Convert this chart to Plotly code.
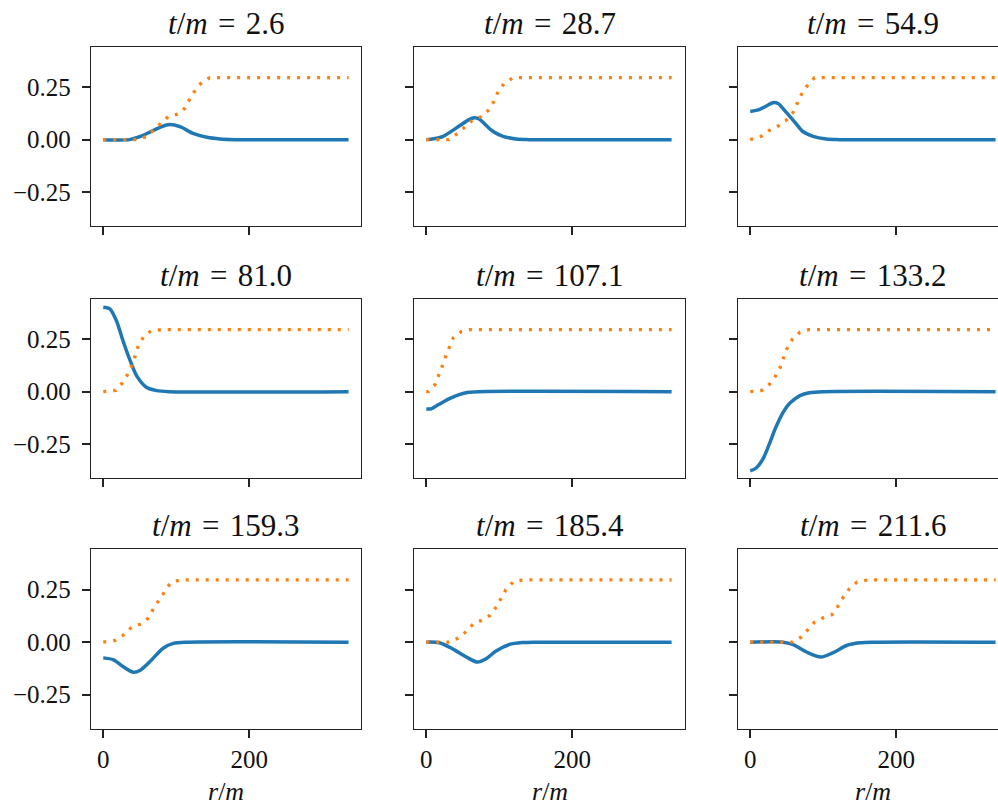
import plotly.graph_objects as go

# ---------------- data ----------------
TIMES = [2.6, 28.7, 54.9, 81.0, 107.1, 133.2, 159.3, 185.4, 211.6]
X_TICKS = [0, 200]
X_TICK_LABELS = ["0", "200"]
Y_TICKS = [-0.25, 0.0, 0.25]
Y_TICK_LABELS = ["\u22120.25", "0.00", "0.25"]

# solid blue curves (r, value)
r_blue_1 = [0, 36, 50, 68, 80, 91, 105, 123, 142, 160, 180, 336]
v_blue_1 = [0, 0.0, 0.014, 0.043, 0.062, 0.072, 0.062, 0.030, 0.011, 0.003, 0, 0]
r_blue_2 = [0, 10, 23, 45, 58, 66, 73, 80, 91, 105, 123, 140, 336]
v_blue_2 = [0, 0.004, 0.016, 0.065, 0.095, 0.105, 0.098, 0.075, 0.040, 0.016, 0.003, 0, 0]
r_blue_3 = [0, 13, 24, 31, 38, 49, 61, 72, 86, 104, 120, 336]
v_blue_3 = [0.135, 0.145, 0.165, 0.177, 0.173, 0.132, 0.084, 0.039, 0.016, 0.003, 0, 0]
r_blue_4 = [0, 9, 18, 27, 37, 46, 59, 73, 90, 336]
v_blue_4 = [0.405, 0.397, 0.340, 0.244, 0.147, 0.074, 0.021, 0.005, 0, 0]
r_blue_5 = [0, 6, 17, 31, 45, 58, 72, 336]
v_blue_5 = [-0.083, -0.083, -0.062, -0.035, -0.014, -0.003, 0, 0]
r_blue_6 = [0, 8, 17, 26, 35, 45, 54, 68, 81, 100, 336]
v_blue_6 = [-0.380, -0.366, -0.325, -0.252, -0.171, -0.099, -0.056, -0.019, -0.005, 0, 0]
r_blue_7 = [0, 14, 27, 41, 50, 64, 82, 96, 115, 336]
v_blue_7 = [-0.075, -0.084, -0.116, -0.143, -0.135, -0.092, -0.029, -0.006, 0, 0]
r_blue_8 = [0, 18, 36, 55, 70, 82, 95, 114, 132, 150, 336]
v_blue_8 = [0, -0.003, -0.032, -0.071, -0.095, -0.079, -0.043, -0.011, -0.002, 0, 0]
r_blue_9 = [0, 45, 58, 77, 97, 113, 132, 150, 170, 336]
v_blue_9 = [0, 0, -0.011, -0.047, -0.071, -0.051, -0.016, -0.003, 0, 0]

# dotted orange curves (r, value)
r_orange_1 = [0, 46, 59, 78, 89, 103, 112, 119, 126, 135, 146, 336]
v_orange_1 = [0, 0, 0.014, 0.075, 0.110, 0.123, 0.152, 0.198, 0.238, 0.275, 0.297, 0.297]
r_orange_2 = [0, 31, 43, 52, 64, 75, 85, 93, 99, 107, 119, 336]
v_orange_2 = [0, 0, 0.030, 0.060, 0.095, 0.110, 0.140, 0.185, 0.235, 0.270, 0.297, 0.297]
r_orange_3 = [0, 15, 26, 38, 49, 58, 70, 78, 88, 336]
v_orange_3 = [0, 0.016, 0.044, 0.065, 0.092, 0.127, 0.216, 0.258, 0.297, 0.297]
r_orange_4 = [0, 17, 25, 32, 40, 48, 56, 66, 80, 336]
v_orange_4 = [0, 0.006, 0.037, 0.074, 0.130, 0.220, 0.268, 0.292, 0.297, 0.297]
r_orange_5 = [0, 3, 12, 17, 22, 27, 32, 37, 48, 60, 336]
v_orange_5 = [0, 0, 0.034, 0.074, 0.123, 0.173, 0.221, 0.258, 0.288, 0.297, 0.297]
r_orange_6 = [0, 15, 26, 34, 41, 46, 50, 58, 68, 80, 336]
v_orange_6 = [0, 0.005, 0.034, 0.072, 0.117, 0.162, 0.205, 0.253, 0.285, 0.297, 0.297]
r_orange_7 = [0, 16, 28, 39, 53, 63, 69, 77, 92, 105, 336]
v_orange_7 = [0, 0.008, 0.035, 0.072, 0.088, 0.119, 0.162, 0.202, 0.282, 0.297, 0.297]
r_orange_8 = [0, 32, 45, 55, 65, 76, 87, 96, 109, 120, 134, 336]
v_orange_8 = [0, 0, 0.021, 0.052, 0.089, 0.104, 0.127, 0.168, 0.250, 0.290, 0.297, 0.297]
r_orange_9 = [0, 58, 70, 79, 88, 100, 112, 120, 128, 136, 146, 161, 336]
v_orange_9 = [0, 0, 0.025, 0.063, 0.095, 0.116, 0.131, 0.171, 0.218, 0.255, 0.286, 0.297, 0.297]

BLUE_R = [r_blue_1, r_blue_2, r_blue_3, r_blue_4, r_blue_5, r_blue_6, r_blue_7, r_blue_8, r_blue_9]
BLUE_V = [v_blue_1, v_blue_2, v_blue_3, v_blue_4, v_blue_5, v_blue_6, v_blue_7, v_blue_8, v_blue_9]
ORANGE_R = [r_orange_1, r_orange_2, r_orange_3, r_orange_4, r_orange_5, r_orange_6, r_orange_7, r_orange_8, r_orange_9]
ORANGE_V = [v_orange_1, v_orange_2, v_orange_3, v_orange_4, v_orange_5, v_orange_6, v_orange_7, v_orange_8, v_orange_9]

# ---------------- layout geometry ----------------
W, H = 998, 805
FONT = "Liberation Serif"
TEXT_COLOR = "#111"
COL_PX = [(91, 361), (414, 685), (738, 1008)]
ROW_PX = [(47, 226), (299, 478), (549, 729)]
XR = [-16.8, 353.0]
YR = [-0.414, 0.444]
PX_PER_UNIT = (COL_PX[0][1] - COL_PX[0][0]) / (XR[1] - XR[0])

fig = go.Figure()
annotations = []

for i in range(9):
    row, col = divmod(i, 3)
    k = i + 1
    xs = "" if k == 1 else str(k)
    fig.add_trace(go.Scatter(
        x=BLUE_R[i], y=BLUE_V[i], mode="lines",
        line=dict(color="#1f77b4", width=3.5, shape="spline", smoothing=0.8),
        xaxis="x" + xs, yaxis="y" + xs, showlegend=False, hoverinfo="skip"))
    fig.add_trace(go.Scatter(
        x=ORANGE_R[i], y=ORANGE_V[i], mode="lines",
        line=dict(color="#ff7f0e", width=3.3, dash="3px,7px"),
        xaxis="x" + xs, yaxis="y" + xs, showlegend=False, hoverinfo="skip"))

    x0, x1 = COL_PX[col]
    y0, y1 = ROW_PX[row]
    vis_x1 = min(x1, W)
    xr_end = XR[0] + (vis_x1 - x0) / PX_PER_UNIT
    xdom = [x0 / W, vis_x1 / W]
    ydom = [1 - y1 / H, 1 - y0 / H]

    axis_common = dict(showgrid=False, zeroline=False, showline=True,
                       linecolor="#222", linewidth=1.3, ticks="outside",
                       ticklen=8, tickwidth=1.6, tickcolor="#222",
                       tickfont=dict(family=FONT, size=25, color=TEXT_COLOR))
    fig.layout["xaxis" + xs] = dict(
        axis_common, domain=xdom, range=[XR[0], xr_end], anchor="y" + xs,
        mirror=True, tickvals=X_TICKS, ticktext=X_TICK_LABELS,
        showticklabels=(row == 2))
    fig.layout["yaxis" + xs] = dict(
        axis_common, domain=ydom, range=YR, anchor="x" + xs,
        mirror=(col != 2), tickvals=Y_TICKS, ticktext=Y_TICK_LABELS,
        showticklabels=(col == 0), ticklabelstandoff=6)

    cx = (x0 + x1) / 2 / W
    annotations.append(dict(
        text="<i>t</i>/<i>m</i>\u2004=\u2004%.1f" % TIMES[i], x=cx, y=1 - (y0 - 24) / H,
        xref="paper", yref="paper", xanchor="center", yanchor="middle",
        showarrow=False, font=dict(family=FONT, size=31, color=TEXT_COLOR)))
    if row == 2:
        annotations.append(dict(
            text="<i>r</i>/<i>m</i>", x=cx, y=1 - 791 / H,
            xref="paper", yref="paper", xanchor="center", yanchor="middle",
            showarrow=False, font=dict(family=FONT, size=26, color=TEXT_COLOR)))

fig.update_layout(
    width=W, height=H, margin=dict(l=0, r=0, t=0, b=0),
    paper_bgcolor="white", plot_bgcolor="white",
    annotations=annotations,
)

fig.write_html("out.html", config={"displayModeBar": False},
               post_script="document.body.style.margin='0';document.body.style.overflow='hidden';")
